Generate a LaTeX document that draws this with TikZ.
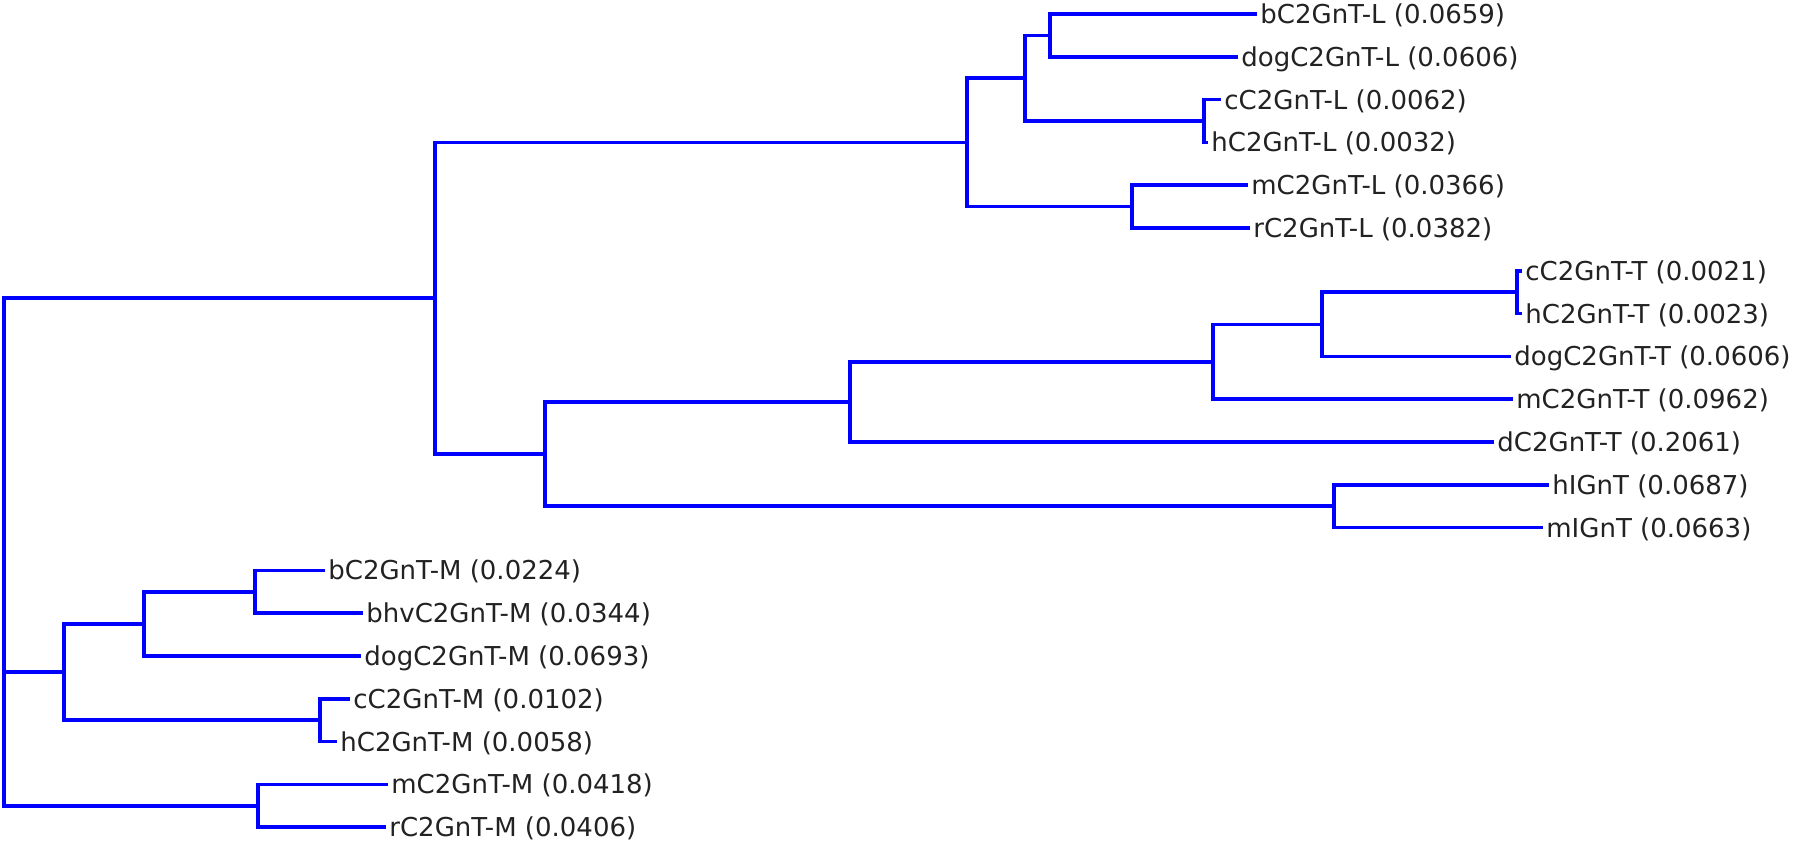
\documentclass[tikz,border=0pt]{standalone}
\usepackage{fontspec}
\setmainfont{DejaVu Sans}
\definecolor{treeblue}{RGB}{0,0,255}
\definecolor{labelgray}{RGB}{34,34,34}
\newcommand\leafnode[4]{%
  \coordinate (#1) at (#2,#3);
  \node[leaflabel] (#1t) at ([shift={(3,9.5)}]#1) {#4};}
\begin{document}
\begin{tikzpicture}[x=0.5pt,y=-0.5pt,
  branch/.style={draw=treeblue,line width=1.8pt},
  leaflabel/.style={anchor=base west,inner sep=0pt,text=labelgray,font=\fontsize{13}{15}\selectfont}]
\useasboundingbox (0,0) rectangle (1800,846);
% internal nodes
\coordinate (R) at (4,552);
\coordinate (A) at (435,298.2);
\coordinate (H) at (967,142.4);
\coordinate (I) at (1025,78.2);
\coordinate (J) at (1050,35.4);
\coordinate (K) at (1204,121);
\coordinate (L) at (1132,206.6);
\coordinate (B) at (545,454);
\coordinate (M) at (850,401.9);
\coordinate (O) at (1213,361.75);
\coordinate (P) at (1322,324.3);
\coordinate (Q) at (1517,292.2);
\coordinate (N) at (1334,506.2);
\coordinate (C) at (64,672);
\coordinate (D) at (144,623.9);
\coordinate (E) at (255,591.8);
\coordinate (F) at (320,720.2);
\coordinate (G) at (258,805.8);
% leaves
\leafnode{bL}{1257}{14}{bC2GnT-L (0.0659)}
\leafnode{dogL}{1238}{56.8}{dogC2GnT-L (0.0606)}
\leafnode{cL}{1221}{99.6}{cC2GnT-L (0.0062)}
\leafnode{hL}{1208}{142.4}{hC2GnT-L (0.0032)}
\leafnode{mL}{1248}{185.2}{mC2GnT-L (0.0366)}
\leafnode{rL}{1250}{228}{rC2GnT-L (0.0382)}
\leafnode{cT}{1522}{270.8}{cC2GnT-T (0.0021)}
\leafnode{hT}{1522}{313.6}{hC2GnT-T (0.0023)}
\leafnode{dogT}{1511}{356.4}{dogC2GnT-T (0.0606)}
\leafnode{mT}{1513}{399.2}{mC2GnT-T (0.0962)}
\leafnode{dT}{1494}{442}{dC2GnT-T (0.2061)}
\leafnode{hI}{1549}{484.8}{hIGnT (0.0687)}
\leafnode{mI}{1543}{527.6}{mIGnT (0.0663)}
\leafnode{bM}{325}{570.4}{bC2GnT-M (0.0224)}
\leafnode{bhvM}{363}{613.2}{bhvC2GnT-M (0.0344)}
\leafnode{dogM}{361}{656}{dogC2GnT-M (0.0693)}
\leafnode{cM}{350}{698.8}{cC2GnT-M (0.0102)}
\leafnode{hM}{337}{741.6}{hC2GnT-M (0.0058)}
\leafnode{mM}{388}{784.4}{mC2GnT-M (0.0418)}
\leafnode{rM}{386}{827.2}{rC2GnT-M (0.0406)}
% branches
\draw[branch] (R) |- (A);
\draw[branch] (R) |- (C);
\draw[branch] (R) |- (G);
\draw[branch] (A) |- (H);
\draw[branch] (A) |- (B);
\draw[branch] (H) |- (I);
\draw[branch] (H) |- (L);
\draw[branch] (I) |- (J);
\draw[branch] (I) |- (K);
\draw[branch] (J) |- (bL);
\draw[branch] (J) |- (dogL);
\draw[branch] (K) |- (cL);
\draw[branch] (K) |- (hL);
\draw[branch] (L) |- (mL);
\draw[branch] (L) |- (rL);
\draw[branch] (B) |- (M);
\draw[branch] (B) |- (N);
\draw[branch] (M) |- (O);
\draw[branch] (M) |- (dT);
\draw[branch] (O) |- (P);
\draw[branch] (O) |- (mT);
\draw[branch] (P) |- (Q);
\draw[branch] (P) |- (dogT);
\draw[branch] (Q) |- (cT);
\draw[branch] (Q) |- (hT);
\draw[branch] (N) |- (hI);
\draw[branch] (N) |- (mI);
\draw[branch] (C) |- (D);
\draw[branch] (C) |- (F);
\draw[branch] (D) |- (E);
\draw[branch] (D) |- (dogM);
\draw[branch] (E) |- (bM);
\draw[branch] (E) |- (bhvM);
\draw[branch] (F) |- (cM);
\draw[branch] (F) |- (hM);
\draw[branch] (G) |- (mM);
\draw[branch] (G) |- (rM);
\end{tikzpicture}
\end{document}
